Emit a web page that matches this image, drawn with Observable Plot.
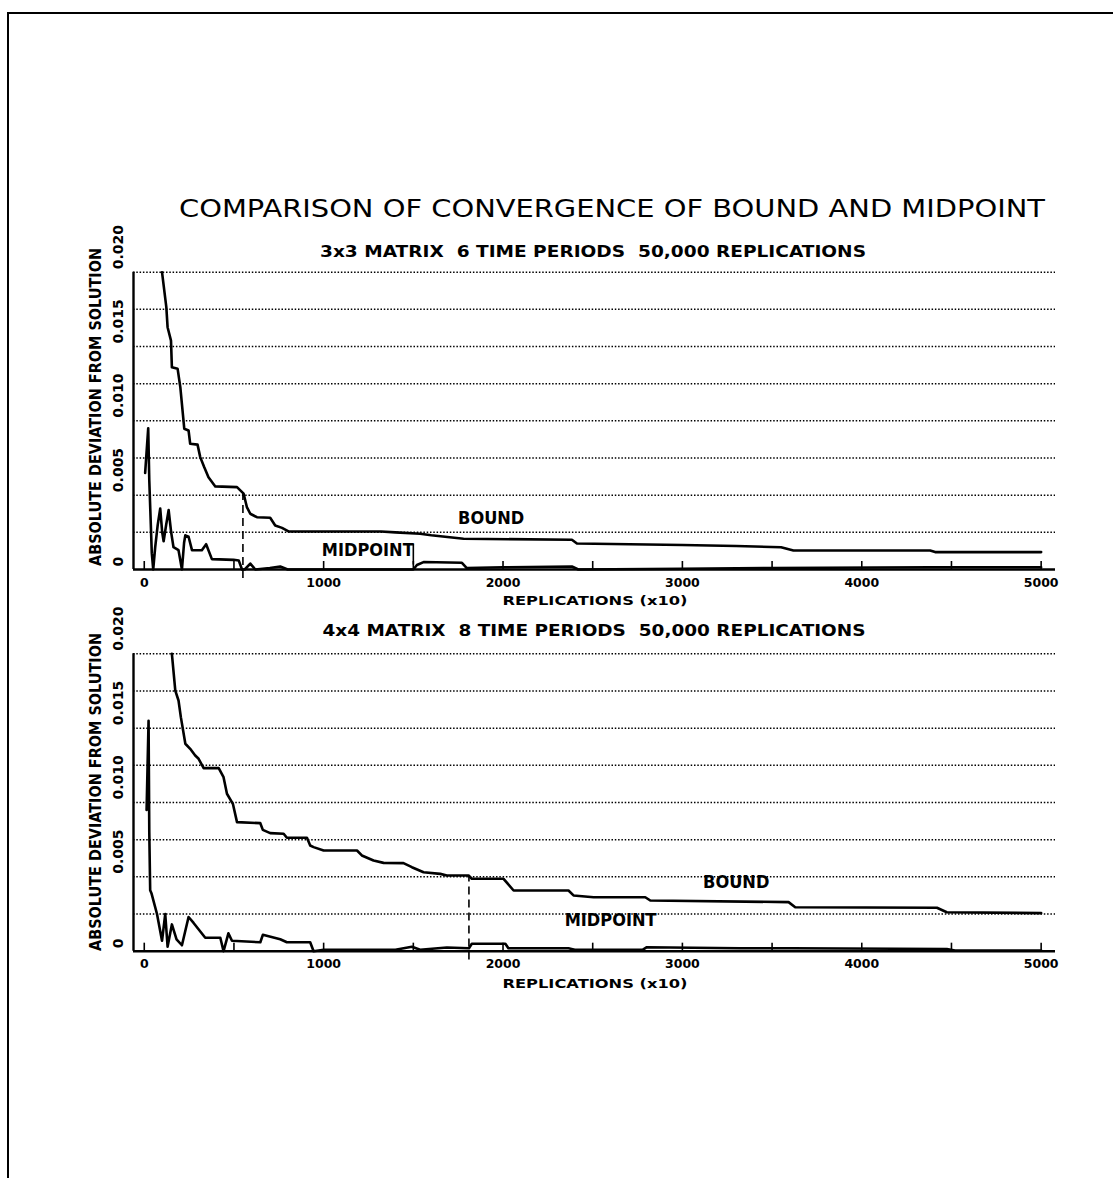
<!DOCTYPE html>
<html><head><meta charset="utf-8">
<script src="https://cdn.jsdelivr.net/npm/d3@7"></script>
<script src="https://cdn.jsdelivr.net/npm/@observablehq/plot@0.6"></script>
<style>
body{margin:0;background:#fff;}
#page{position:relative;width:1113px;height:1178px;overflow:hidden;background:#fff;}
#frame{position:absolute;left:7px;top:12px;width:1110px;height:1200px;border-top:2px solid #000;border-left:2px solid #000;}
.abs{position:absolute;left:0;}
</style></head><body><div id="page"><div id="frame"></div></div>
<script>
// ---------- data ----------
const title = "COMPARISON OF CONVERGENCE OF BOUND AND MIDPOINT";
const subtitles = ["3x3 MATRIX  6 TIME PERIODS  50,000 REPLICATIONS", "4x4 MATRIX  8 TIME PERIODS  50,000 REPLICATIONS"];
const xLabel = "REPLICATIONS (x10)";
const yLabel = "ABSOLUTE DEVIATION FROM SOLUTION";
const xTickValues = [0, 1000, 2000, 3000, 4000, 5000];
const xMinorTicks = [0, 500, 1000, 1500, 2000, 2500, 3000, 3500, 4000, 4500, 5000];
const yTickValues = [0, 0.005, 0.010, 0.015, 0.020];
const yTickLabels = ["0", "0.005", "0.010", "0.015", "0.020"];
const yGrid = [0.0025, 0.005, 0.0075, 0.010, 0.0125, 0.015, 0.0175, 0.020];
const xDomain = [-60, 5080];
const yDomain = [0, 0.02];

// 3x3 panel
const bound3x = [99,123,130,149,154,186,201,223,247,256,297,312,334,358,396,517,554,572,591,628,702,730,768,804,1320,1400,1538,1600,1780,2384,2412,3000,3300,3550,3619,4381,4409,5000];
const bound3y = [0.0200,0.01765,0.0163,0.0154,0.0136,0.0135,0.01227,0.00947,0.00935,0.00846,0.0084,0.00756,0.00689,0.00621,0.00559,0.00554,0.0051,0.0042,0.00375,0.00352,0.00348,0.00296,0.0028,0.00256,0.00256,0.0025,0.0024,0.0023,0.00207,0.0020,0.00175,0.00165,0.00158,0.0015,0.00128,0.00128,0.00117,0.00117];
const mid3x = [5,22,28,42,50,61,75,89,100,108,122,136,150,163,191,210,222,229,247,266,321,345,377,498,527,545,560,591,619,700,758,800,1500,1520,1557,1771,1798,2000,2384,2420,3000,3500,4381,5000];
const mid3y = [0.0065,0.0095,0.006,0.0011,0.0,0.0015,0.003,0.0041,0.0025,0.0019,0.003,0.0040,0.0025,0.0015,0.0013,0.0,0.0018,0.0023,0.0022,0.0013,0.0013,0.0017,0.0007,0.00065,0.0006,0.0,0.0,0.0004,0.0,0.0001,0.0002,0.0,0.0,0.0003,0.0005,0.00045,0.0001,0.00015,0.0002,0.0,0.00005,0.0001,0.00015,0.00015];
const dash3 = {x: 550, top: 0.0051};
const labels3 = [{x: 1934, y: 0.00348, text: "BOUND"}, {x: 1246, y: 0.00128, text: "MIDPOINT"}];
const leader3 = {x: 1500, from: 0.0003, to: 0.0017};

// 4x4 panel
const bound4x = [154,173,191,204,229,256,284,303,331,415,442,461,494,517,647,661,702,777,795,907,925,944,1000,1186,1213,1278,1334,1445,1492,1557,1650,1687,1808,1826,2003,2059,2365,2393,2505,2793,2821,3592,3629,4419,4474,5000];
const bound4y = [0.0200,0.01753,0.01686,0.01574,0.01395,0.01361,0.01316,0.01294,0.01231,0.01231,0.0117,0.01059,0.00991,0.00868,0.00861,0.00816,0.00794,0.0079,0.00763,0.00763,0.00711,0.007,0.00677,0.00677,0.00644,0.0061,0.00594,0.00592,0.00565,0.00531,0.0052,0.00509,0.00509,0.00487,0.00487,0.00408,0.00408,0.00375,0.00363,0.00363,0.00341,0.0033,0.00296,0.00292,0.00262,0.00256];
const mid4x = [13,24,28,33,40,71,99,117,130,154,180,210,247,275,340,424,442,460,469,489,647,661,758,795,925,944,1000,1400,1492,1538,1687,1810,1826,2013,2030,2365,2400,2780,2802,3322,3610,4474,4520,5000];
const mid4y = [0.0095,0.0155,0.008,0.0041,0.0039,0.0025,0.0007,0.0025,0.0003,0.0018,0.0008,0.0004,0.0023,0.0019,0.0009,0.0009,0.0,0.0008,0.0012,0.0007,0.0006,0.0011,0.0008,0.0006,0.0006,0.0,0.0001,0.0001,0.0003,0.0001,0.00025,0.0002,0.0005,0.0005,0.0002,0.0002,0.0001,0.0001,0.00027,0.0002,0.0002,0.00015,0.00005,0.00005];
const dash4 = {x: 1810, top: 0.0050};
const labels4 = [{x: 3300, y: 0.00464, text: "BOUND"}, {x: 2600, y: 0.00211, text: "MIDPOINT"}];

// ---------- drawing ----------
const page = document.getElementById("page");
const zip = (xs, ys) => xs.map((x, i) => ({x, y: ys[i]}));
const TICKLEN = 0.00054;

function panel(bound, mid, dash, labels, leader, mTop, mBottom) {
  const marks = [
    Plot.ruleY(yGrid, {stroke: "#000", strokeWidth: 1.5, strokeDasharray: "1.5,1.8"}),
    Plot.ruleX([xDomain[0]], {y1: yDomain[0], y2: yDomain[1], stroke: "#000", strokeWidth: 2.4}),
    Plot.ruleY([0], {stroke: "#000", strokeWidth: 2.6}),
    Plot.ruleX(xMinorTicks, {y1: 0, y2: TICKLEN, stroke: "#000", strokeWidth: 1.6}),
    Plot.ruleX([dash.x], {y1: -0.0006, y2: dash.top, stroke: "#000", strokeWidth: 1.6, strokeDasharray: "8,5"}),
    Plot.line(bound, {x: "x", y: "y", stroke: "#000", strokeWidth: 2.6, strokeLinejoin: "round"}),
    Plot.line(mid, {x: "x", y: "y", stroke: "#000", strokeWidth: 2.6, strokeLinejoin: "round"}),
    Plot.text(xTickValues, {x: d => d, frameAnchor: "bottom", dy: 17, text: d => String(d), fontSize: 12.5, fontWeight: "bold", fontFamily: "DejaVu Sans", fill: "#000"}),
    Plot.text(yTickValues, {y: d => d, frameAnchor: "left", dx: -15, dy: -3, rotate: -90, text: (d, i) => yTickLabels[i], fontSize: 14, fontWeight: "bold", fontFamily: "DejaVu Sans", fill: "#000"}),
    Plot.text(labels, {x: "x", y: "y", text: "text", fontSize: 18, fontWeight: "bold", fontFamily: "DejaVu Sans Condensed", fill: "#000"})
  ];
  if (leader) marks.push(Plot.ruleX([leader.x], {y1: leader.from, y2: leader.to, stroke: "#000", strokeWidth: 1.6}));
  return Plot.plot({
    width: 1113, height: 380,
    marginTop: mTop, marginBottom: mBottom, marginLeft: 133, marginRight: 58,
    x: {domain: xDomain, axis: null},
    y: {domain: yDomain, axis: null},
    style: {background: "transparent", overflow: "visible"},
    marks
  });
}

const p1 = panel(zip(bound3x, bound3y), zip(mid3x, mid3y), dash3, labels3, leader3, 31.7, 51);
p1.classList.add("abs"); p1.style.top = "240px";
page.appendChild(p1);
const p2 = panel(zip(bound4x, bound4y), zip(mid4x, mid4y), dash4, labels4, null, 33.3, 49.3);
p2.classList.add("abs"); p2.style.top = "620px";
page.appendChild(p2);

// ---------- titles & axis labels ----------
const svg = d3.select(page).append("svg").attr("class", "abs").style("top", "0px")
  .attr("width", 1113).attr("height", 1178).style("pointer-events", "none");
function txt(s, x, y, size, weight, len, rot, family) {
  const t = svg.append("text").text(s)
    .attr("x", x).attr("y", y)
    .attr("text-anchor", "middle").attr("dominant-baseline", "central")
    .attr("font-family", family || "DejaVu Sans").attr("font-size", size).attr("font-weight", weight)
    .attr("textLength", len).attr("lengthAdjust", "spacingAndGlyphs")
    .style("white-space", "pre").attr("fill", "#000");
  if (rot) t.attr("transform", `rotate(${rot},${x},${y})`);
}
txt(title, 612, 208, 25, "normal", 866);
txt(subtitles[0], 593, 252, 15, "bold", 546);
txt(subtitles[1], 594, 631, 15, "bold", 543);
txt(xLabel, 595, 601, 11.5, "bold", 185);
txt(xLabel, 595, 984, 11.5, "bold", 185);
txt(yLabel, 96, 407, 15, "bold", 318, -90, "DejaVu Sans Condensed");
txt(yLabel, 96, 792, 15, "bold", 318, -90, "DejaVu Sans Condensed");
</script></body></html>
